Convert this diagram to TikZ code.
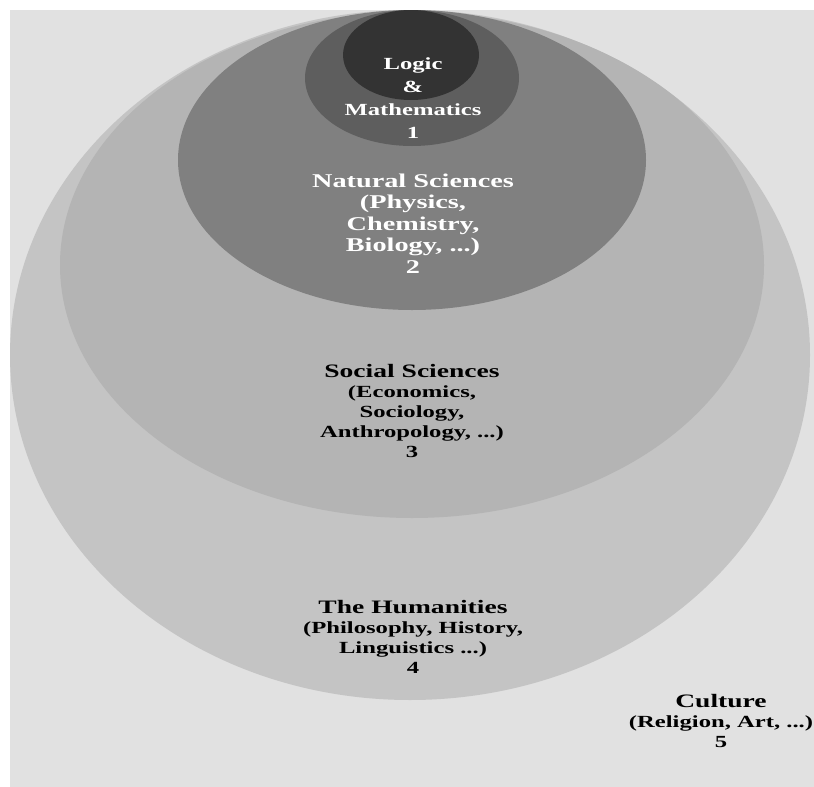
\documentclass[tikz,border=0pt]{standalone}
\usepackage{fontspec}
\newfontfamily\lab[FakeStretch=1.45]{Liberation Serif Bold}
\begin{document}
\begin{tikzpicture}[x=1pt,y=-1pt,
  lvl/.style={draw=none},
  caption/.style={align=center,inner sep=0pt,anchor=base},
  head/.style={font=\lab\fontsize{19}{20}\selectfont},
  small/.style={font=\lab\fontsize{17}{20}\selectfont}]
  \useasboundingbox (0,0) rectangle (814,787);
  % page margin and backdrop
  \fill[white] (0,0) rectangle (814,787);
  \fill[fill={rgb,255:red,225;green,225;blue,225}] (10,10) rectangle (814,787);
  % nested fields, outermost first
  \fill[lvl,fill={rgb,255:red,196;green,196;blue,196}] (410,355) ellipse [x radius=400, y radius=345];
  \fill[lvl,fill={rgb,255:red,180;green,180;blue,180}] (412,265) ellipse [x radius=352, y radius=253];
  \fill[lvl,fill={rgb,255:red,128;green,128;blue,128}] (412,160) ellipse [x radius=234, y radius=150];
  \fill[lvl,fill={rgb,255:red,94;green,94;blue,94}] (412,78) ellipse [x radius=107, y radius=68];
  \fill[lvl,fill={rgb,255:red,51;green,51;blue,51}] (411,55) ellipse [x radius=68, y radius=45];
  % labels (placed by the baseline of their last line)
  \node[caption,font=\lab\fontsize{17}{23}\selectfont,text=white] (logic) at (413,138) {Logic\\\&\\Mathematics\\1};
  \node[caption,font=\lab\fontsize{19.5}{21.5}\selectfont,text=white] (natural) at (413,273) {Natural Sciences\\(Physics,\\Chemistry,\\Biology, ...)\\2};
  \node[caption,small,text=black] (social) at (412,457) {{\fontsize{19}{20}\selectfont Social Sciences}\\(Economics,\\Sociology,\\Anthropology, ...)\\3};
  \node[caption,small,text=black] (human) at (413,673) {{\fontsize{19}{20}\selectfont The Humanities}\\(Philosophy, History,\\Linguistics ...)\\4};
  \node[caption,small,text=black] (culture) at (721,747) {{\fontsize{19}{20}\selectfont Culture}\\(Religion, Art, ...)\\5};
\end{tikzpicture}
\end{document}
